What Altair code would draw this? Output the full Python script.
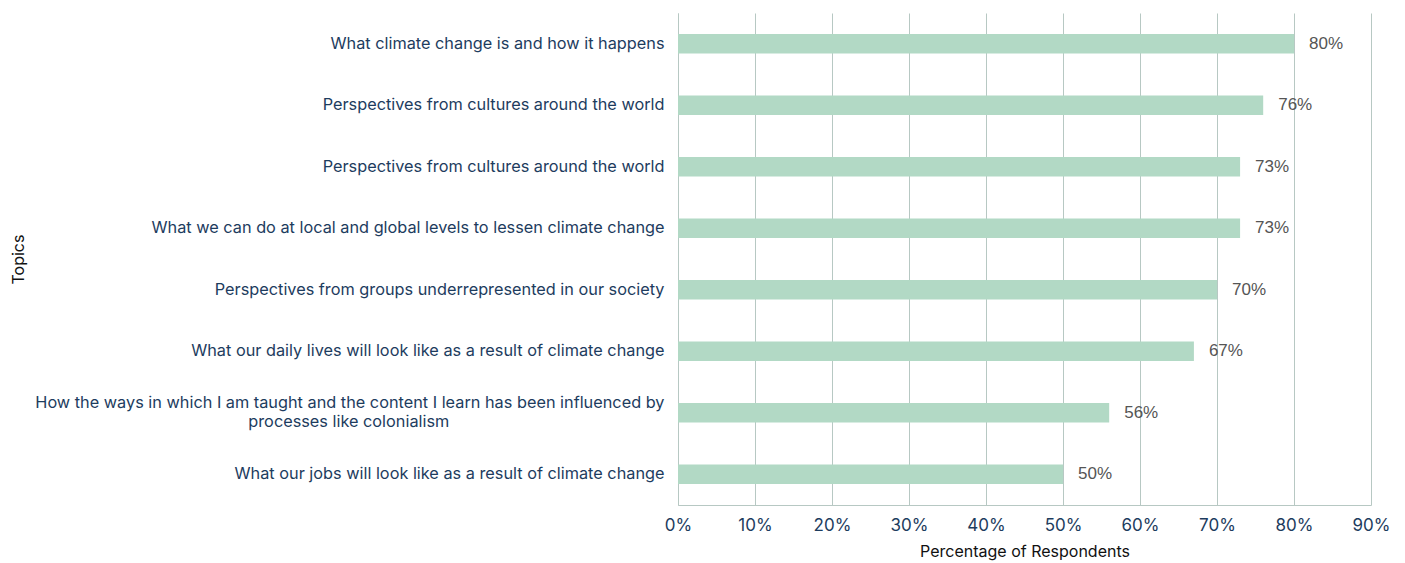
import json
import altair as alt
import pandas as pd

topics = [
    "What climate change is and how it happens",
    "Perspectives from cultures around the world",
    "Perspectives from cultures around the world",
    "What we can do at local and global levels to lessen climate change",
    "Perspectives from groups underrepresented in our society",
    "What our daily lives will look like as a result of climate change",
    "How the ways in which I am taught and the content I learn has been influenced by\nprocesses like colonialism" + "\u00a0" * 47 + "\u200b",
    "What our jobs will look like as a result of climate change",
]
values = [80, 76, 73, 73, 70, 67, 56, 50]

df = pd.DataFrame({
    "idx": list(range(len(topics))),
    "pct": [v / 100 for v in values],
    "lbl": [f"{v}%" for v in values],
})

label_expr = "split(" + json.dumps(topics, ensure_ascii=False) + "[datum.value], '\\n')"

FONT = "Inter"
NAVY = "#1d3c5e"
GRID = "#b7c8c3"

y_enc = alt.Y(
    "idx:O",
    sort="ascending",
    scale=alt.Scale(paddingInner=0.68, paddingOuter=0.34),
    axis=alt.Axis(
        title="Topics",
        labelExpr=label_expr,
        labelFontSize=16.3,
        labelColor=NAVY,
        labelFont=FONT,
        labelPadding=14,
        labelLineHeight=19,
        labelLimit=1000,
        labelOffset={"condition": {"test": "datum.value == 6", "value": -9.5}, "value": 0},
        ticks=False,
        domain=True,
        domainColor=GRID,
        titleFontSize=16,
        titleFont=FONT,
        titleFontWeight="normal",
        titleColor="#111111",
        titleX=-652,
        titleY=246,
    ),
)

x_enc = alt.X(
    "pct:Q",
    scale=alt.Scale(domain=[0, 0.9]),
    axis=alt.Axis(
        title="Percentage of Respondents",
        format=".0%",
        values=[i / 10 for i in range(10)],
        labelFontSize=17,
        labelColor=NAVY,
        labelFont=FONT,
        labelPadding=12,
        labelFlush=False,
        ticks=False,
        grid=True,
        gridColor=GRID,
        gridWidth=1,
        domain=True,
        domainColor=GRID,
        titleFontSize=16,
        titleFont=FONT,
        titleFontWeight="normal",
        titleColor="#111111",
        titlePadding=10,
    ),
)

base = alt.Chart(df)
bars = base.mark_bar(color="#b2d9c5").encode(x=x_enc, y=y_enc)
texts = base.mark_text(align="left", baseline="middle", dx=15, fontSize=17, font="Liberation Sans", color="#555555").encode(
    x="pct:Q", y=alt.Y("idx:O", sort="ascending"), text="lbl:N"
)

chart = (
    alt.layer(bars, texts)
    .properties(
        width=693,
        height=492,
        autosize=alt.AutoSizeParams(type="none"),
        padding={"left": 678, "top": 13, "right": 34, "bottom": 58},
    )
    .configure_view(stroke=None)
)

chart.save("out.html", embed_options={"renderer": "svg", "actions": False})
